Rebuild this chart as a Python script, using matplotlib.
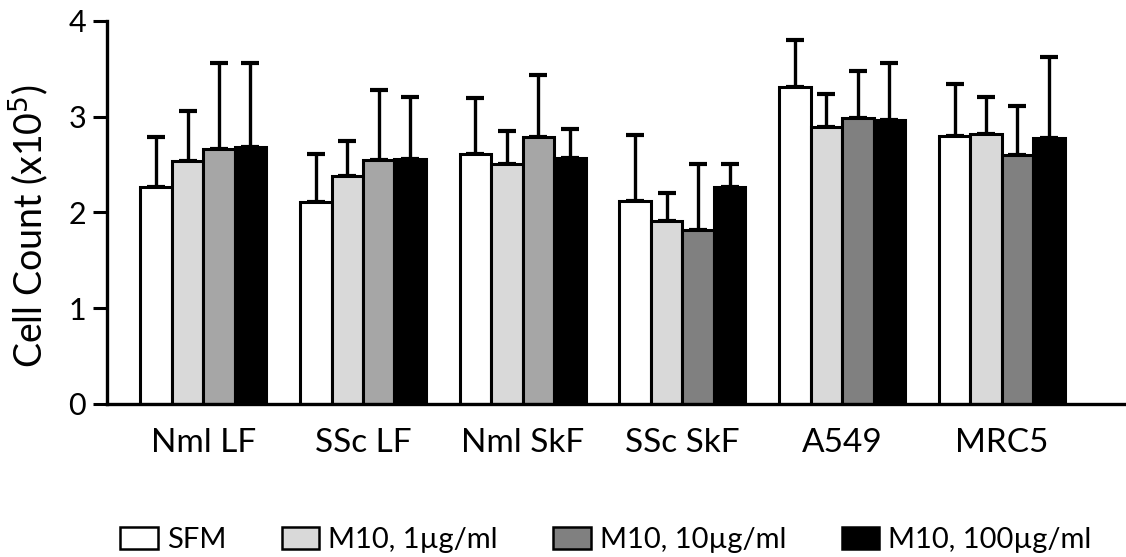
import matplotlib
matplotlib.use("Agg")
import matplotlib.pyplot as plt
import numpy as np

plt.rcParams["font.family"] = ["Lato", "DejaVu Sans"]

cell_lines = ["Nml LF", "SSc LF", "Nml SkF", "SSc SkF", "A549", "MRC5"]
treatments = ["SFM", "M10, 1µg/ml", "M10, 10µg/ml", "M10, 100µg/ml"]

# mean cell count (x10^5) per treatment, one value per cell line
sfm = [2.27, 2.11, 2.61, 2.12, 3.31, 2.80]
m10_1 = [2.54, 2.38, 2.50, 1.91, 2.89, 2.82]
m10_10 = [2.66, 2.55, 2.79, 1.82, 2.98, 2.60]
m10_100 = [2.68, 2.56, 2.57, 2.26, 2.96, 2.78]

# upper error (SD)
sfm_err = [0.52, 0.50, 0.58, 0.69, 0.49, 0.54]
m10_1_err = [0.52, 0.37, 0.35, 0.29, 0.35, 0.38]
m10_10_err = [0.90, 0.73, 0.64, 0.69, 0.50, 0.51]
m10_100_err = [0.88, 0.64, 0.30, 0.25, 0.60, 0.84]

means = [sfm, m10_1, m10_10, m10_100]
errs = [sfm_err, m10_1_err, m10_10_err, m10_100_err]
colors = ["white", "#d9d9d9", "#808080", "black"]

fig = plt.figure(figsize=(11.26, 5.57), dpi=100)
ax = fig.add_axes([0.095, 0.2747, 0.905, 0.688])

x = np.arange(len(cell_lines))
width = 0.197
for i, (vals, err) in enumerate(zip(means, errs)):
    pos = x + (i - 1.5) * width
    fc = [colors[i]] * len(vals)
    if i == 2:
        # the first three groups use a lighter grey in the original
        fc = ["#a6a6a6"] * 3 + ["#808080"] * 3
    ax.bar(pos, vals, width, color=fc, edgecolor="black", linewidth=2.2,
           label=treatments[i], zorder=2)
    ax.errorbar(pos, vals, yerr=[np.zeros(len(err)), err], fmt="none",
                ecolor="black", elinewidth=2.4, capsize=6.5, capthick=3, zorder=1)

ax.set_xlim(-0.603, 5.778)
ax.set_ylim(0, 4)
ax.set_yticks([0, 1, 2, 3, 4])
ax.set_xticks(x)
ax.set_xticklabels(cell_lines, fontsize=24)
ax.tick_params(axis="x", length=0, pad=17)
ax.tick_params(axis="y", length=10, width=2.2, labelsize=22, pad=5)
ax.set_ylabel("Cell Count (x10$^5$)", fontsize=27)
ax.yaxis.set_label_coords(52 / 1126, 1 - 226 / 557, transform=fig.transFigure)
for s in ["top", "right"]:
    ax.spines[s].set_visible(False)
ax.spines["left"].set_linewidth(2.4)
ax.spines["bottom"].set_linewidth(2.4)

handles = [plt.Rectangle((0, 0), 1, 1, facecolor=c, edgecolor="black", linewidth=1.8)
           for c in colors]
fig.legend(handles, treatments, loc="center", bbox_to_anchor=(0.538, 0.03), ncol=4,
           frameon=False, fontsize=21, handlelength=1.3, handleheight=0.8,
           handletextpad=0.3, columnspacing=1.9)

fig.savefig("out.png", dpi=100)
